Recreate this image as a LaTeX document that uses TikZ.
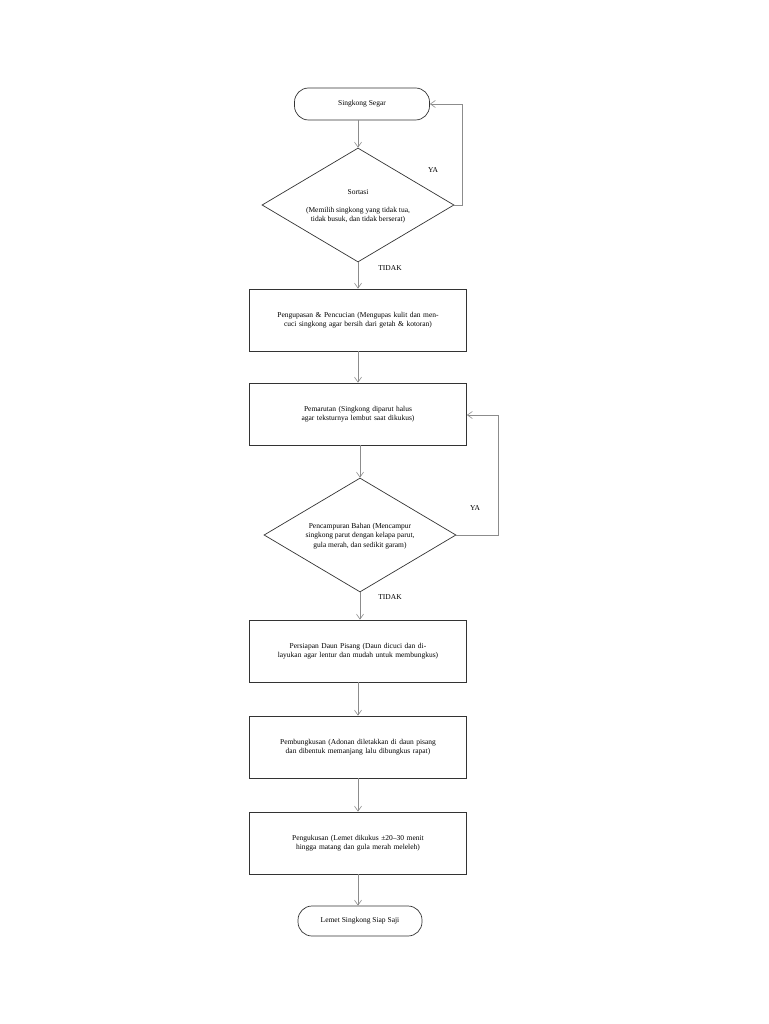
\documentclass[tikz,border=0pt]{standalone}
\usepackage{fontspec}
\setmainfont{Liberation Serif}
\usetikzlibrary{arrows.meta,shapes.geometric}
\begin{document}
\begin{tikzpicture}[x=1pt,y=-1pt,
  every node/.style={font=\fontsize{7.5}{9.5}\selectfont},
  box/.style={draw=black!80,line width=0.7pt,minimum width=217pt,minimum height=62pt,align=center,text width=210pt,inner sep=1pt},
  term/.style={draw=black!80,line width=0.7pt,rounded corners=14pt,minimum height=32pt,align=center},
  dia/.style={draw=black!80,line width=0.7pt,diamond,aspect=1.68,minimum width=192pt,minimum height=114pt,align=center,inner sep=0pt},
  arr/.style={draw=black!45,line width=0.6pt,-{Straight Barb[length=5pt,width=7pt]}},
  lbl/.style={font=\fontsize{7.5}{9}\selectfont}]
\useasboundingbox (0,0) rectangle (768,1024);
\node[term,minimum width=135pt] (s) at (362,104) {Singkong Segar};
\node[dia] (d1) at (358,205) {};
\node at (358,192) {Sortasi};
\node[align=center] at (358,215) {(Memilih singkong yang tidak tua,\\tidak busuk, dan tidak berserat)};
\node[box] (b1) at (358,320) {Pengupasan \& Pencucian (Mengupas kulit dan mencuci singkong agar bersih dari getah \& kotoran)};
\node[box] (b2) at (358,414) {Pemarutan (Singkong diparut halus agar teksturnya lembut saat dikukus)};
\node[dia] (d2) at (360,535) {};
\node[align=center] at (360,536) {Pencampuran Bahan (Mencampur\\singkong parut dengan kelapa parut,\\gula merah, dan sedikit garam)};
\node[box] (b3) at (358,651) {Persiapan Daun Pisang (Daun dicuci dan dilayukan agar lentur dan mudah untuk membungkus)};
\node[box] (b4) at (358,747) {Pembungkusan (Adonan diletakkan di daun pisang dan dibentuk memanjang lalu dibungkus rapat)};
\node[box] (b5) at (358,843) {Pengukusan (Lemet dikukus ±20–30 menit hingga matang dan gula merah meleleh)};
\node[term,minimum width=124pt,minimum height=30pt] (e) at (360,921) {Lemet Singkong Siap Saji};
\coordinate (c1) at (462,205); \coordinate (c2) at (462,104);
\coordinate (c3) at (498,535); \coordinate (c4) at (498,415);
\draw[arr] (s.south -| d1.north) -- (d1.north);
\draw[arr] (d1.east) -- (c1) -- (c2) -- (s.east);
\draw[arr] (d1.south) -- (b1.north);
\draw[arr] (b1.south) -- (b2.north);
\draw[arr] (b2.south -| d2.north) -- (d2.north);
\draw[arr] (d2.east) -- (c3) -- (c4) -- (b2.east |- c4);
\draw[arr] (d2.south) -- (b3.north -| d2.south);
\draw[arr] (b3.south) -- (b4.north);
\draw[arr] (b4.south) -- (b5.north);
\draw[arr] (b5.south) -- (e.north -| b5.south);
\node[lbl] (ya1) at (433,170) {YA};
\node[lbl] (t1) at (390,268) {TIDAK};
\node[lbl] (ya2) at (475,508) {YA};
\node[lbl] (t2) at (390,597) {TIDAK};
\end{tikzpicture}
\end{document}
